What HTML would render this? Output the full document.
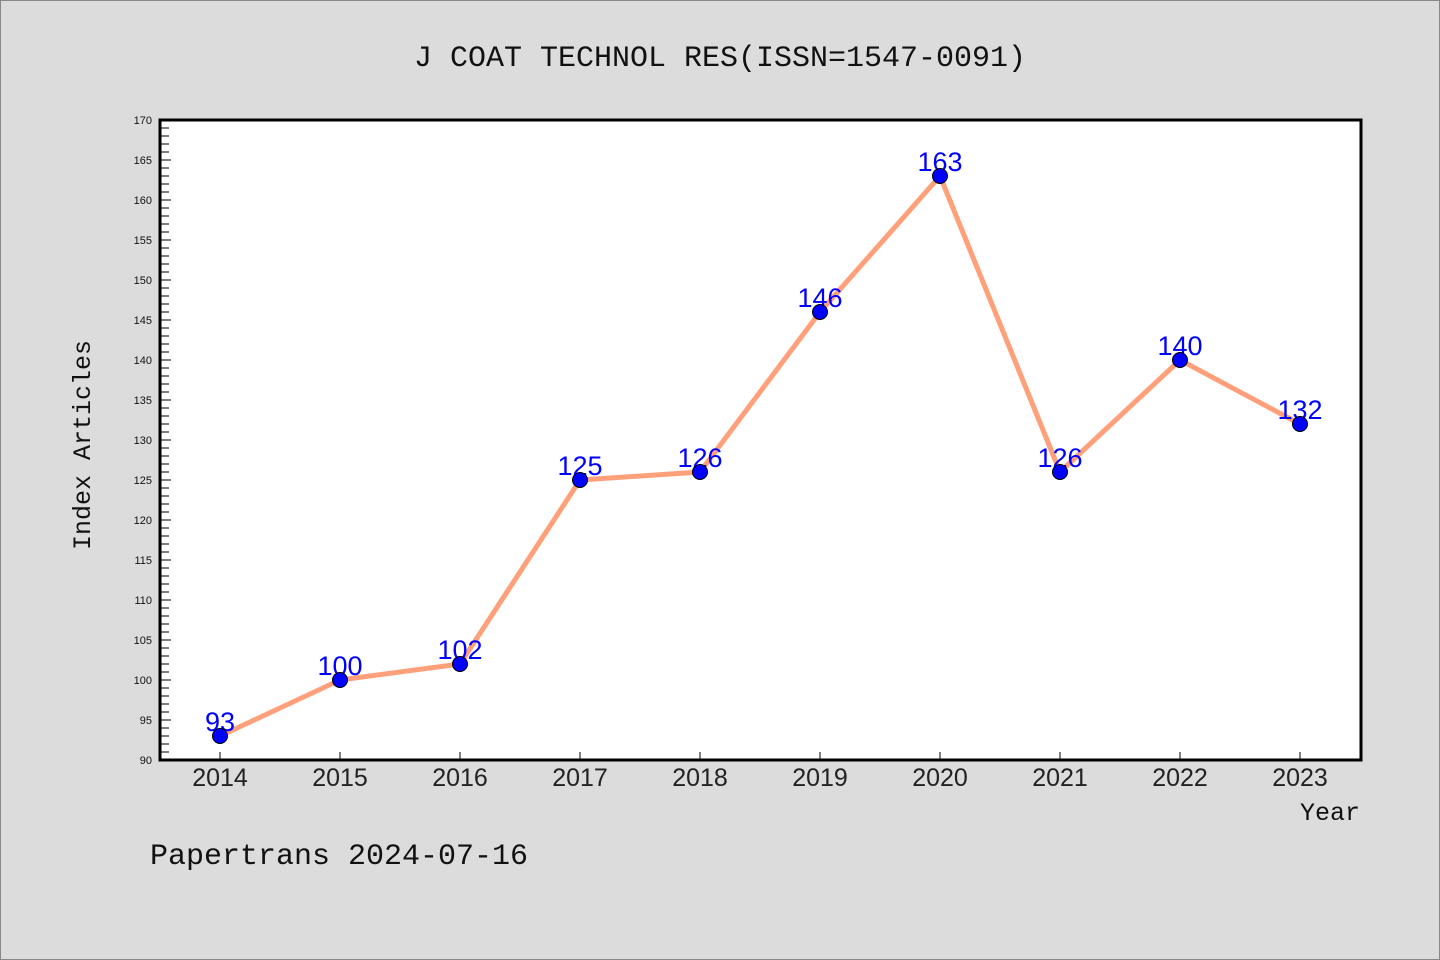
<!DOCTYPE html>
<html><head><meta charset="utf-8"><style>
body{margin:0;background:#dcdcdc;}
svg{display:block;font-family:"Liberation Mono","DejaVu Sans Mono",monospace;}
</style></head><body>
<svg id="chart" width="1440" height="960" xmlns="http://www.w3.org/2000/svg">
<rect x="0.5" y="0.5" width="1439" height="959" fill="#dcdcdc" stroke="#888"/>
<text x="720" y="66" text-anchor="middle" font-size="30" fill="#111">J COAT TECHNOL RES(ISSN=1547-0091)</text>
<rect x="160" y="120" width="1201" height="640" fill="#fff" stroke="#000" stroke-width="3"/>
<g id="yticks"></g>
<g id="xticks"></g>
<g id="series"></g>
<text transform="translate(90,445) rotate(-90)" text-anchor="middle" font-size="25" fill="#111">Index Articles</text>
<text x="1360" y="820" text-anchor="end" font-size="25" fill="#111">Year</text>
<text x="150" y="864" font-size="30" fill="#111">Papertrans 2024-07-16</text>
</svg>
<script>
const years=["2014","2015","2016","2017","2018","2019","2020","2021","2022","2023"];
const articles=[93,100,102,125,126,146,163,126,140,132];
const yMin=90,yMax=170;
const NS="http://www.w3.org/2000/svg";
const X=i=>220+i*120;
const Y=v=>760-(v-yMin)*(640/(yMax-yMin));
function mk(t,a,p){const e=document.createElementNS(NS,t);for(const k in a)e.setAttribute(k,a[k]);p.appendChild(e);return e;}
const yt=document.getElementById('yticks');
for(let v=yMin;v<=yMax;v++){
  const major=v%5===0;
  const l=mk('line',{x1:161,x2:major?171:169,y1:Y(v),y2:Y(v),stroke:'#000','stroke-width':1},yt);
  
  
  if(major){
    const t=mk('text',{x:152,y:Y(v)+4,'text-anchor':'end','font-size':11,fill:'#111','font-family':'Liberation Sans, sans-serif'},yt);
    t.textContent=v;
    
    
  }
}
const xt=document.getElementById('xticks');
years.forEach((y,i)=>{
  const l=mk('line',{x1:X(i),x2:X(i),y1:759,y2:752,stroke:'#000','stroke-width':1},xt);
  
  
  const t=mk('text',{x:X(i),y:786,'text-anchor':'middle','font-size':25,fill:'#222','font-family':'Liberation Sans, sans-serif'},xt);
  t.textContent=y;
  
  
});
const s=document.getElementById('series');
const pl=mk('polyline',{points:articles.map((v,i)=>X(i)+','+Y(v)).join(' '),fill:'none',stroke:'#ffa07a','stroke-width':5,'stroke-linejoin':'round'},s);


articles.forEach((v,i)=>{
  const t=mk('text',{x:X(i),y:Y(v)-5,'text-anchor':'middle','font-size':27,fill:'#0000ff','font-family':'Liberation Sans, sans-serif'},s);
  t.textContent=v;
  
  
  const c=mk('circle',{cx:X(i),cy:Y(v),r:7.5,fill:'#0000ff',stroke:'#000','stroke-width':1},s);
  
  
});
</script>
</body></html>
